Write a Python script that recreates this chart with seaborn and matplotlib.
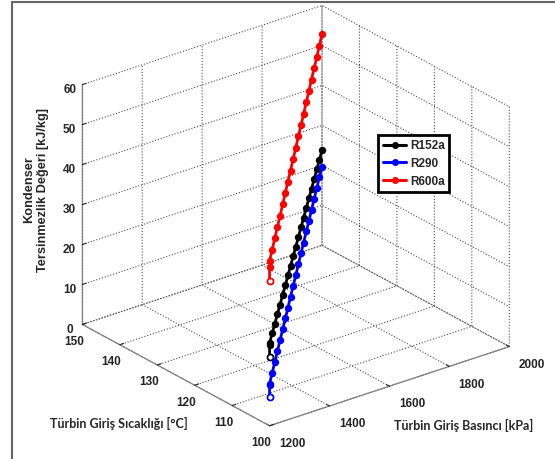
import matplotlib
matplotlib.use('Agg')
import matplotlib.pyplot as plt
import seaborn as sns
from matplotlib.lines import Line2D
from mpl_toolkits.mplot3d import proj3d

sns.set_style('white')
plt.rcParams['font.family'] = ['Liberation Sans', 'DejaVu Sans']
plt.rcParams['font.weight'] = 'bold'

# turbine inlet temperature [C] and pressure [kPa] along each run
temperature = [100, 100, 100, 102.5, 105, 107.5, 110, 112.5, 115, 117.5, 120, 122.5,
               125, 127.5, 130, 132.5, 135, 137.5, 140, 142.5, 145, 147.5, 150]
pressure = [1200, 1200, 1200, 1240, 1280, 1320, 1360, 1400, 1440, 1480, 1520, 1560,
            1600, 1640, 1680, 1720, 1760, 1800, 1840, 1880, 1920, 1960, 2000]

# condenser exergy destruction [kJ/kg]
r152a = [17.3, 20.1, 20.7, 20.9, 21.0, 21.2, 21.3, 21.5, 21.6, 21.8, 21.9, 22.1,
         22.2, 22.4, 22.6, 22.7, 22.9, 23.0, 23.2, 23.3, 23.5, 23.6, 23.8]
r290 = [7.2, 10.1, 10.5, 11.0, 11.4, 11.9, 12.4, 12.8, 13.3, 13.7, 14.2, 14.7,
        15.1, 15.6, 16.1, 16.5, 17.0, 17.4, 17.9, 18.4, 18.8, 19.3, 19.7]
r600a = [36.3, 39.8, 41.2, 41.8, 42.4, 43.0, 43.5, 44.1, 44.7, 45.3, 45.8, 46.4,
         47.0, 47.6, 48.2, 48.7, 49.3, 49.9, 50.5, 51.1, 51.6, 52.2, 52.8]

pressure_ticks = [1200, 1400, 1600, 1800, 2000]
temperature_ticks = [100, 110, 120, 130, 140, 150]
z_ticks = [0, 10, 20, 30, 40, 50, 60]

series = {'R152a': (r152a, 'black'), 'R290': (r290, 'blue'), 'R600a': (r600a, 'red')}

fig = plt.figure(figsize=(5.55, 4.59), dpi=100)
ax = fig.add_axes([0.082, 0.027, 0.88, 0.98], projection='3d')
ax.set_proj_type('ortho')
ax.view_init(elev=25, azim=-128)
ax.set_box_aspect((1, 1, 0.87), zoom=1.09)

for name, (vals, col) in series.items():
    ax.plot(pressure, temperature, vals, color=col, lw=2, marker='o', ms=4.3, label=name)
    ax.plot(pressure[:1], temperature[:1], vals[:1], color=col, lw=0, marker='o', ms=4.3,
            markerfacecolor='white', markeredgewidth=1.2)

ax.set_xlim(1200, 2000)
ax.set_ylim(100, 150)
ax.set_zlim(0, 60)
ax.set_xticks(pressure_ticks)
ax.xaxis.set_tick_params(labelbottom=False)
ax.set_yticks(temperature_ticks)
ax.set_zticks(z_ticks)
ax.tick_params(labelsize=8.5)
ax.yaxis.set_tick_params(pad=-2)
ax.zaxis.set_tick_params(pad=-3)

# pressure tick labels set off along the temperature direction, like the original
proj = ax.get_proj()
for p in pressure_ticks:
    px, py, _ = proj3d.proj_transform(p, 94, -1.5, proj)
    ax.text2D(px, py, str(p), transform=ax.transData, ha='center', va='center',
              fontsize=8.5, weight='bold')

for axis in (ax.xaxis, ax.yaxis, ax.zaxis):
    axis.set_pane_color((1, 1, 1, 0))
    axis.pane.set_edgecolor('0.3')
    axis.pane.set_linestyle(':')
    axis.pane.set_linewidth(0.8)
    axis.line.set_color('0.5')
    axis.line.set_linewidth(0.9)
    axis._axinfo['grid'].update({'color': '0.3', 'linestyle': ':', 'linewidth': 0.8})
    axis._axinfo['tick']['inward_factor'] = 0.0
    axis._axinfo['tick']['outward_factor'] = 0.2

# axis titles
fig.text(119 / 555, 1 - 423 / 459, 'Türbin Giriş Sıcaklığı [°C]', ha='center', va='center',
         fontsize=9, family='Lato', weight='bold')
fig.text(464 / 555, 1 - 425 / 459, 'Türbin Giriş Basıncı [kPa]', ha='center', va='center',
         fontsize=9, family='Lato', weight='bold')
fig.text(36 / 555, 1 - 190 / 459, 'Kondenser\nTersinmezlik Değeri [kJ/kg]', ha='center',
         va='center', rotation=90, fontsize=9.2, weight='bold', linespacing=1.15)

handles = [Line2D([], [], color=c, lw=2.2, marker='o', ms=4) for _, c in series.values()]
leg = fig.legend(handles, list(series.keys()), loc='upper left',
                 bbox_to_anchor=(378 / 555, 1 - 135 / 459), borderaxespad=0, fontsize=8.5,
                 frameon=True, fancybox=False, edgecolor='black', framealpha=1,
                 handlelength=2.0, handletextpad=0.3, borderpad=0.4, labelspacing=0.5)
leg.get_frame().set_linewidth(2)

# outer frame of the exported figure
fig.add_artist(Line2D([12 / 555, 12 / 555], [0, 1 - 2 / 459], transform=fig.transFigure,
                      color='0.4', lw=1.5))
fig.add_artist(Line2D([12 / 555, 1], [1 - 2 / 459, 1 - 2 / 459], transform=fig.transFigure,
                      color='0.4', lw=1.5))

fig.savefig('out.png', dpi=100)
